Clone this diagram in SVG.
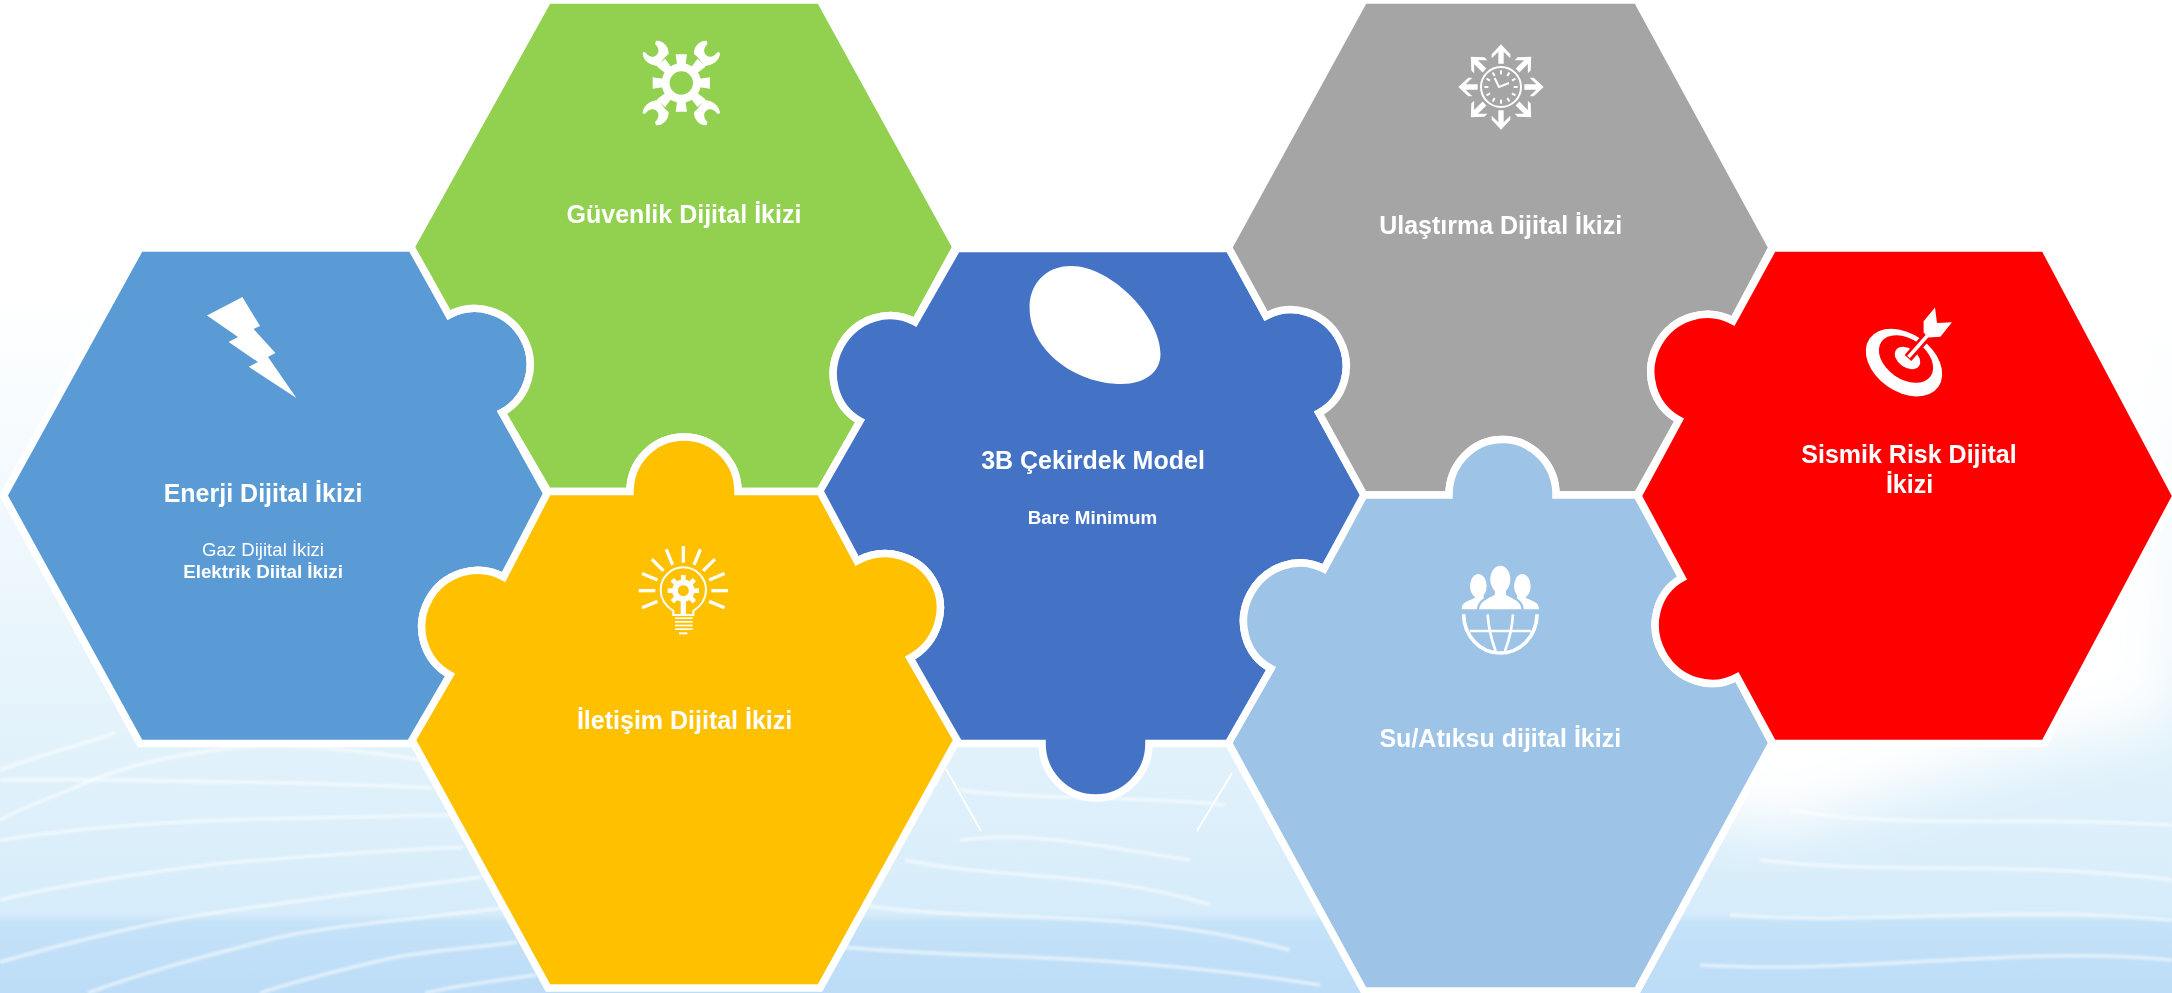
<svg xmlns="http://www.w3.org/2000/svg" xmlns:xlink="http://www.w3.org/1999/xlink" width="2172" height="993" viewBox="0 0 2172 993">
<style>
.hex{stroke:#fff;stroke-width:7.5;stroke-linejoin:miter;stroke-miterlimit:6}
.t{font-family:"Liberation Sans",Arial,sans-serif;fill:#fff;text-anchor:middle;font-weight:700;font-size:25px}
.s{font-size:18.8px}
.r{font-weight:400;font-size:18.6px}
.w{fill:#fff}
.l{fill:none;stroke:#fff}
.wave{fill:none;stroke:#fff;stroke-width:4;opacity:.5}
</style>
<defs>
<linearGradient id="bg" x1="0" y1="0" x2="0" y2="1">
<stop offset="0" stop-color="#fff"/><stop offset=".3" stop-color="#fff"/><stop offset=".5" stop-color="#f2f9fd"/><stop offset=".75" stop-color="#e2f2fb"/><stop offset=".92" stop-color="#d6ecfa"/><stop offset=".93" stop-color="#c4e2f8"/><stop offset="1" stop-color="#bcdcf7"/>
</linearGradient>
<filter id="soft" x="-5%" y="-5%" width="110%" height="110%"><feGaussianBlur stdDeviation="30"/></filter>
<filter id="soft2" x="-5%" y="-20%" width="110%" height="140%"><feGaussianBlur stdDeviation=".8"/></filter>
<path id="wr" d="M-25.3 -42.3C-18 -43 -12 -35.7 -12.7 -29C-16.3 -26.3 -19.7 -22.3 -22 -17C-31.3 -17 -38.7 -23 -38.7 -30.3L-36.3 -31C-33 -26.3 -28 -24.7 -24.7 -28C-21.3 -31.3 -23 -36.3 -26.3 -39Z"/>
<path id="gt" d="M-12 -50L-17 -86H17L12 -50Z"/>
<rect id="ray" x="-5" y="-134" width="10" height="50"/>
<rect id="gt2" x="-7" y="-47" width="14" height="18"/>
<path id="arw" d="M0 -128L28 -98V-86L8 -106V-70H-8V-106L-28 -86V-98Z"/>
<rect id="tick" x="-3" y="-50" width="6" height="12"/>
</defs>
<g id="background">
<rect width="2172" height="993" fill="url(#bg)"/>
<path d="M1650 0H2172V720C2100 730 1950 770 1780 830L1650 800Z" fill="#fff" filter="url(#soft)"/>
<g filter="url(#soft2)">
<path class="wave" d="M0 840C80 828 160 822 230 820S400 816 451 815"/>
<path class="wave" d="M0 900C60 885 130 875 191 867S400 850 463 847"/>
<path class="wave" d="M0 962C60 945 110 932 172 920S400 888 482 877"/>
<path class="wave" d="M88 993C150 970 210 955 268 940S430 918 501 908"/>
<path class="wave" d="M260 993C300 980 340 970 383 960S480 948 517 942"/>
<path class="wave" d="M425 993C460 985 500 980 536 975"/>
<path class="wave" d="M0 820C30 803 60 795 88 782S170 755 230 748S370 752 421 760"/>
<path class="wave" d="M0 780C80 778 160 781 230 782S380 785 432 788"/>
<path class="wave" d="M0 770C40 755 80 745 115 733"/>
<path class="wave" d="M960 790C1030 800 1120 795 1225 805"/>
<path class="wave" d="M960 840C1040 830 1120 850 1190 860"/>
<path class="wave" d="M905 860C1000 880 1100 870 1210 905"/>
<path class="wave" d="M860 905C1000 925 1120 905 1290 950"/>
<path class="wave" d="M820 945C950 960 1100 950 1320 985"/>
<path class="wave" d="M1790 810C1900 830 2020 815 2172 825"/>
<path class="wave" d="M1760 860C1880 875 2020 860 2172 880"/>
<path class="wave" d="M1730 915C1870 925 2020 905 2172 920"/>
<path class="wave" d="M1700 965C1860 975 2020 945 2172 960"/>
</g>
</g>
<g id="connectors">
<path d="M946 769L981 831M1232 773L1197 831" fill="none" stroke="#fff" stroke-width="1.8"/>
</g>
<g id="node-enerji">
<path class="hex" fill="#5b9bd5" d="M140 248H412L449 315A55 54 61 1 1 502 412.5L548 495.5L503.6 577A55 54 -61 1 0 450 675L412 743.5H140L3.7 495.5Z"/>
<polygon class="w" points="242.4,297 260,326 253.6,329 275.4,353 268,357 296.4,398 248.7,366.7 258,362 228.6,342 238,337 207,315.4"/>
<text class="t" x="263" y="502">Enerji Dijital İkizi</text>
<text class="t s r" x="263" y="556">Gaz Dijital İkizi</text>
<text class="t s" x="263" y="578">Elektrik Diital İkizi</text>
</g>
<g id="node-guvenlik">
<path class="hex" fill="#92d050" d="M548 0H820L956 247L915 322A55 52 -61 1 0 860 421L820 491.5H738A54 54.5 0 0 0 630 491.5H548L502 412.5A55 54 61 1 0 449 315L411 247Z"/>
<g transform="translate(681.3 83) scale(.3333)">
<circle class="l" r="47" stroke-width="24"/>
<g class="w">
<use xlink:href="#gt"/><use xlink:href="#gt" transform="rotate(45)"/><use xlink:href="#gt" transform="rotate(90)"/><use xlink:href="#gt" transform="rotate(135)"/><use xlink:href="#gt" transform="rotate(180)"/><use xlink:href="#gt" transform="rotate(225)"/><use xlink:href="#gt" transform="rotate(270)"/><use xlink:href="#gt" transform="rotate(315)"/>
<g transform="scale(3)"><use xlink:href="#wr"/><use xlink:href="#wr" transform="scale(-1 1)"/><use xlink:href="#wr" transform="scale(1 -1)"/><use xlink:href="#wr" transform="scale(-1 -1)"/></g>
</g>
</g>
<text class="t" x="684" y="223">Güvenlik Dijital İkizi</text>
</g>
<g id="node-cekirdek">
<path class="hex" fill="#4472c4" d="M957 248.5H1229L1266 316A55 53 61 1 1 1319 413L1364.6 496L1324 569A55 52 -62 1 0 1271 668.5L1229 743.5H1149A53.5 54.5 0 0 1 1042 743.5H957L910 658A55 57 61 1 0 857 561L817 496L860 421A55 52 -61 1 1 915 322Z"/>
<path class="w" d="M1029.6 308.5C1029 285 1045 266 1071 266C1112 266 1161 318 1160.5 354C1160.5 372 1145 384 1121.5 384C1075 384 1030 350 1029.6 308.5Z"/>
<text class="t" x="1093" y="469">3B Çekirdek Model</text>
<text class="t s" x="1092.5" y="523.5">Bare Minimum</text>
</g>
<g id="node-ulastirma">
<path class="hex" fill="#a5a5a5" d="M1364 0H1637L1772 247.5L1733 321A55 53.5 -61 1 0 1679 420L1637 495H1556A53.5 55.5 0 0 0 1449 495H1364L1319 413A55 53 61 1 0 1266 316L1228.5 247.5Z"/>
<g transform="translate(1501 87) scale(.3333)">
<circle class="l" r="60" stroke-width="6"/>
<g class="w">
<use xlink:href="#arw"/><use xlink:href="#arw" transform="rotate(45)"/><use xlink:href="#arw" transform="rotate(90)"/><use xlink:href="#arw" transform="rotate(135)"/><use xlink:href="#arw" transform="rotate(180)"/><use xlink:href="#arw" transform="rotate(225)"/><use xlink:href="#arw" transform="rotate(270)"/><use xlink:href="#arw" transform="rotate(315)"/>
<use xlink:href="#tick"/><use xlink:href="#tick" transform="rotate(30)"/><use xlink:href="#tick" transform="rotate(60)"/><use xlink:href="#tick" transform="rotate(90)"/><use xlink:href="#tick" transform="rotate(120)"/><use xlink:href="#tick" transform="rotate(150)"/><use xlink:href="#tick" transform="rotate(180)"/><use xlink:href="#tick" transform="rotate(210)"/><use xlink:href="#tick" transform="rotate(240)"/><use xlink:href="#tick" transform="rotate(270)"/><use xlink:href="#tick" transform="rotate(300)"/><use xlink:href="#tick" transform="rotate(330)"/>
</g>
<path class="l" stroke-width="6" d="M-19 -27L-6 0L24 -12"/>
</g>
<text class="t" x="1500.7" y="234">Ulaştırma Dijital İkizi</text>
</g>
<g id="node-iletisim">
<path class="hex" fill="#ffc000" d="M548 491.5H630A54 54.5 0 0 1 738 491.5H820L857 561A55 57 61 1 1 910 658L957 740L820 988H548L412 740L450 675A55 54 -61 1 1 503.6 577Z"/>
<g transform="translate(630 535) scale(.3333)">
<g class="w" transform="translate(160 167)">
<use xlink:href="#ray"/><use xlink:href="#ray" transform="rotate(22.5)"/><use xlink:href="#ray" transform="rotate(45)"/><use xlink:href="#ray" transform="rotate(67.5)"/><use xlink:href="#ray" transform="rotate(90)"/><use xlink:href="#ray" transform="rotate(112.5)"/><use xlink:href="#ray" transform="rotate(-22.5)"/><use xlink:href="#ray" transform="rotate(-45)"/><use xlink:href="#ray" transform="rotate(-67.5)"/><use xlink:href="#ray" transform="rotate(-90)"/><use xlink:href="#ray" transform="rotate(-112.5)"/>
<use xlink:href="#gt2"/><use xlink:href="#gt2" transform="rotate(45)"/><use xlink:href="#gt2" transform="rotate(90)"/><use xlink:href="#gt2" transform="rotate(135)"/><use xlink:href="#gt2" transform="rotate(180)"/><use xlink:href="#gt2" transform="rotate(225)"/><use xlink:href="#gt2" transform="rotate(270)"/><use xlink:href="#gt2" transform="rotate(315)"/>
</g>
<circle class="l" cx="160" cy="167" r="25" stroke-width="17"/>
<path class="l" stroke-width="6" d="M130 240V228C110 215 92 195 92 165A68 68 0 0 1 228 165C228 195 210 215 190 228V240Z"/>
<rect class="w" x="152" y="195" width="16" height="45"/>
<rect class="w" x="135" y="247" width="53" height="5"/><rect class="w" x="135" y="258" width="53" height="5"/><rect class="w" x="135" y="269" width="53" height="5"/><rect class="w" x="135" y="280" width="53" height="5"/><rect class="w" x="147" y="292" width="25" height="6"/>
</g>
<text class="t" x="684.6" y="729">İletişim Dijital İkizi</text>
</g>
<g id="node-su">
<path class="hex" fill="#9dc3e6" d="M1364 495H1449A53.5 55.5 0 0 1 1556 495H1637L1682 578A55 52 61 1 0 1737 677L1772 743L1637 991H1364L1228.5 743L1271 668.5A55 52 -62 1 1 1324 569Z"/>
<g transform="translate(1445 555) scale(.3333)">
<ellipse class="w" cx="100" cy="93" rx="25" ry="36"/>
<ellipse class="w" cx="232" cy="93" rx="25" ry="36"/>
<path class="w" d="M50 163C50 140 70 138 90 128L88 110H112L125 163Z"/>
<path class="w" d="M282 163C282 140 262 138 242 128L244 110H220L207 163Z"/>
<path class="w" stroke="#9dc3e6" stroke-width="7" d="M99 166C99 140 118 132 146 118L146 80H186L186 118C214 132 233 140 233 166Z"/>
<ellipse class="w" cx="166" cy="73" rx="30" ry="41"/>
<path class="l" stroke-width="11" d="M56 178A110 116 0 0 0 276 178"/>
<path class="l" stroke-width="8" d="M128 178C130 215 138 250 152 288M204 178C202 215 194 250 180 288M75 228H257"/>
</g>
<text class="t" x="1500.3" y="746.8">Su/Atıksu dijital İkizi</text>
</g>
<g id="node-sismik">
<path class="hex" fill="#f00" d="M1773 248H2044.5L2176 496L2044.5 743.5H1773L1737 677A55 52 61 1 1 1682 578L1638 496L1679 420A55 53.5 -61 1 1 1733 321Z"/>
<g>
<ellipse class="w" cx="1904" cy="362.6" rx="42" ry="29" transform="rotate(35 1904 362.6)"/>
<ellipse cx="1906" cy="359" rx="30" ry="20" fill="#f00" transform="rotate(35 1906 359)"/>
<ellipse class="w" cx="1907.5" cy="358" rx="14" ry="9.5" transform="rotate(35 1907.5 358)"/>
<path d="M1908 358L1928 335" fill="none" stroke="#f00" stroke-width="9"/>
<path d="M1908.5 357L1928 335" fill="none" stroke="#fff" stroke-width="3.5"/>
<polygon class="w" points="1935,307.5 1937,323 1952,322.3 1940.4,336.8 1928.4,337.4 1923.6,332.6 1923.6,321.3"/>
</g>
<text class="t" x="1909" y="463">Sismik Risk Dijital</text>
<text class="t" x="1909.5" y="493.4">İkizi</text>
</g>
</svg>
